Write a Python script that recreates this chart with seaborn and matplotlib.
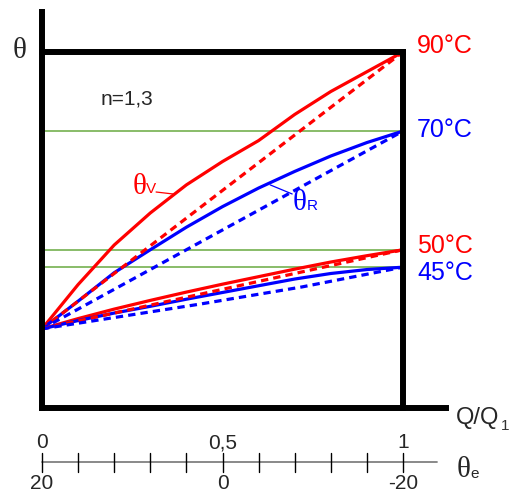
import numpy as np
import pandas as pd
import matplotlib
matplotlib.use("Agg")
import matplotlib.pyplot as plt
import seaborn as sns

sns.set_style("white")
plt.rcParams['font.family'] = ['Liberation Sans', 'DejaVu Sans']

# ---- data (x = Q/Q1, y = temperature in chart units) ----
x_grid = [0, 0.1, 0.2, 0.3, 0.4, 0.5, 0.6, 0.7, 0.8, 0.9, 1.0]
red_hi_solid = [20, 31.2, 41.2, 49.3, 56.4, 62.3, 67.6, 74.2, 80.0, 85.0, 90.0]
blue_hi_solid = [20, 27.0, 34.2, 40.0, 45.7, 50.9, 55.6, 59.8, 63.7, 67.1, 70.0]
red_lo_solid = [20, 22.6, 25.0, 27.2, 29.3, 31.3, 33.2, 35.1, 36.9, 38.5, 40.0]
blue_lo_solid = [20, 22.1, 24.0, 25.7, 27.5, 29.2, 30.9, 32.6, 34.0, 35.0, 35.6]

x_dash = [0, 1.0]
red_hi_dash = [20, 90.0]
blue_hi_dash = [20, 70.0]
red_lo_dash = [20, 40.0]
x_dash_blue_lo = [0, 0.44, 0.72, 1.0]
blue_lo_dash = [20, 26.3, 30.6, 35.6]

green_levels = [70.0, 40.0, 35.6]

end_labels = ["90°C", "70°C", "50°C", "45°C"]
end_label_y = [89.7, 68.5, 39.2, 32.4]
end_label_colors = ["#FF0000", "#0000FF", "#FF0000", "#0000FF"]

scale_ticks = [0, 0.1, 0.2, 0.3, 0.4, 0.5, 0.6, 0.7, 0.8, 0.9, 1.0]
top_scale_labels = ["0", "0,5", "1"]
bottom_scale_labels = ["20", "0", "-20"]
scale_label_pos = [0, 0.5, 1.0]

RED = "#FF0000"
BLUE = "#0000FF"
GREEN = "#74B04F"

XLIM = (-42 / 361, (513 - 42) / 361)
YLIM = (-86 / 3.956, 408 / 3.956)

fig = plt.figure(figsize=(5.13, 4.94), dpi=100)
ax = fig.add_axes([0, 0, 1, 1])

# green reference lines
for g in green_levels:
    ax.plot([0, 1], [g, g], color=GREEN, lw=1.2, zorder=1)

# frame
frame_kw = dict(color="black", lw=4.3, solid_capstyle="projecting", zorder=4)
ax.plot([0, 0], [0, 100.0], **frame_kw)
ax.plot([0, 1.12], [0, 0], **frame_kw)
ax.plot([0, 1], [90, 90], **frame_kw)
ax.plot([1, 1], [0, 90], **frame_kw)

dash = (0, (2.3, 1.6))
lw = 2.3
def line(xs, ys, color, ls="-"):
    df = pd.DataFrame({"x": xs, "y": ys})
    sns.lineplot(data=df, x="x", y="y", ax=ax, color=color, lw=lw,
                 linestyle=ls, estimator=None, sort=False, zorder=3)

line(x_grid, red_hi_solid, RED)
line(x_grid, blue_hi_solid, BLUE)
line(x_grid, red_lo_solid, RED)
line(x_grid, blue_lo_solid, BLUE)
line(x_dash, red_hi_dash, RED, dash)
line(x_dash, blue_hi_dash, BLUE, dash)
line(x_dash, red_lo_dash, RED, dash)
line(x_dash_blue_lo, blue_lo_dash, BLUE, dash)
ax.set_xlim(*XLIM)
ax.set_ylim(*YLIM)
ax.axis("off")

# end labels
for lab, yy, c in zip(end_labels, end_label_y, end_label_colors):
    ax.text(1.039, yy, lab, color=c, fontsize=18, ha="left", va="baseline")

ax.text(0.161, 76.8, "n=1,3", fontsize=15, ha="left", va="baseline")

serif = ["Liberation Serif", "DejaVu Serif"]
# axis symbols
ax.text(-0.082, 88.5, "θ", fontsize=21, family=serif, ha="left", va="baseline")
ax.text(1.146, -4.0, "Q/Q", fontsize=17, ha="left", va="baseline")
ax.text(1.270, -5.5, "1", fontsize=11, ha="left", va="baseline", color="#333333")
ax.text(1.148, -17.4, "θ", fontsize=21, family=serif, ha="left", va="baseline")
ax.text(1.186, -17.6, "e", fontsize=11, ha="left", va="baseline")

# curve annotations
ax.text(0.250, 54.1, "θ", fontsize=21, family=serif, color=RED, ha="left", va="baseline")
ax.text(0.289, 54.3, "V", fontsize=11, color=RED, ha="left", va="baseline")
ax.plot([0.316, 0.363], [54.6, 54.1], color=RED, lw=0.9)
ax.text(0.693, 50.0, "θ", fontsize=21, family=serif, color=BLUE, ha="left", va="baseline")
ax.text(0.733, 50.0, "R", fontsize=11, color=BLUE, ha="left", va="baseline")
ax.plot([0.632, 0.693], [56.4, 54.1], color=BLUE, lw=0.9)

# bottom double scale
y_sc = -13.7
ax.plot([0, 1.094], [y_sc, y_sc], color="#808080", lw=1.3)
for t in scale_ticks:
    ax.plot([t, t], [-11.4, -16.2], color="black", lw=1.0)
for p, lab in zip(scale_label_pos, top_scale_labels):
    ax.text(p, -10.2, lab, fontsize=15, ha="center", va="baseline")
for p, lab in zip(scale_label_pos, bottom_scale_labels):
    ax.text(p, -20.6, lab, fontsize=15, ha="center", va="baseline")

fig.savefig("out.png", dpi=100)
